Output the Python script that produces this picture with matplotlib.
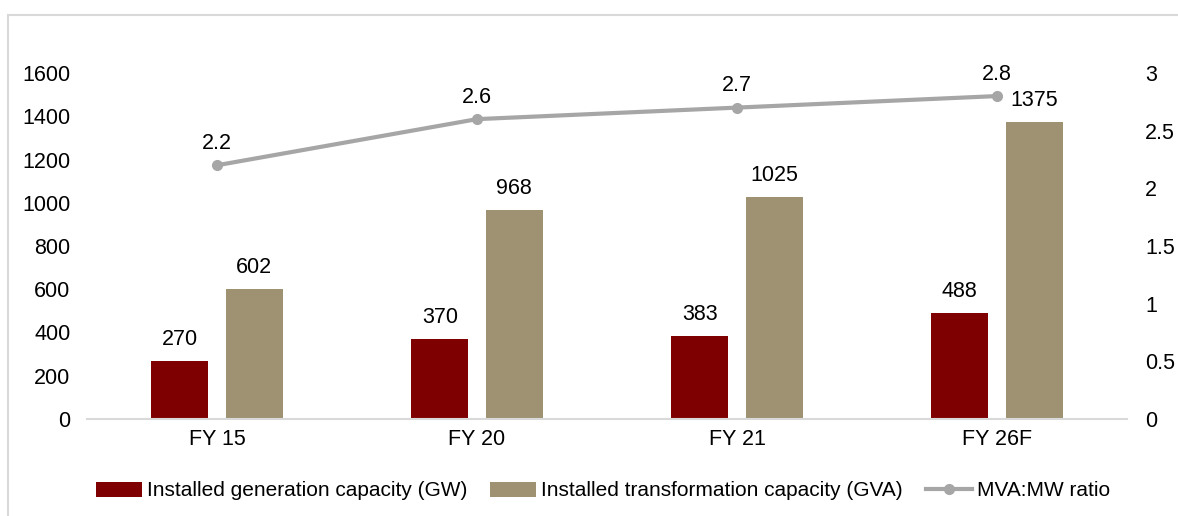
import numpy as np
import matplotlib.pyplot as plt
from matplotlib.patches import Rectangle

plt.rcParams['font.family'] = ['Liberation Sans', 'DejaVu Sans']

years = ['FY 15', 'FY 20', 'FY 21', 'FY 26F']
gen_cap = [270, 370, 383, 488]
trans_cap = [602, 968, 1025, 1375]
ratio = [2.2, 2.6, 2.7, 2.8]

red = '#7f0000'
tan = '#9e9273'
grey = '#a6a6a6'
fs = 15.5

fig = plt.figure(figsize=(11.78, 5.16), dpi=100)
fig.patches.append(Rectangle((8 / 1178, -0.1), 1.2, 1 - 15 / 516 + 0.1, transform=fig.transFigure,
                             fill=False, edgecolor='#d9d9d9', linewidth=1.5))
ax = fig.add_axes([87 / 1178, 1 - 419 / 516, (1127 - 87) / 1178, (419 - 73) / 516])
x = np.arange(len(years))
w = 0.22
off = 0.143
b1 = ax.bar(x - off, gen_cap, w, color=red, label='Installed generation capacity (GW)')
b2 = ax.bar(x + off, trans_cap, w, color=tan, label='Installed transformation capacity (GVA)')
for xi, v in zip(x, gen_cap):
    ax.annotate(str(v), (xi - off, v), xytext=(0, 8), textcoords='offset points',
                ha='center', va='bottom', fontsize=fs)
for xi, v in zip(x, trans_cap):
    ax.annotate(str(v), (xi + off, v), xytext=(0, 8), textcoords='offset points',
                ha='center', va='bottom', fontsize=fs)

ax.set_xlim(-0.5, 3.5)
ax.set_ylim(0, 1600)
ax.set_yticks(range(0, 1601, 200))
ax.set_xticks(x)
ax.set_xticklabels(years)
ax.tick_params(length=0, labelsize=fs)
ax.tick_params(axis='y', pad=12)
ax.tick_params(axis='x', pad=7)
for s in ['top', 'right', 'left']:
    ax.spines[s].set_visible(False)
ax.spines['bottom'].set_color('#d9d9d9')
ax.spines['bottom'].set_linewidth(1.5)

ax2 = ax.twinx()
ln, = ax2.plot(x, ratio, color=grey, linewidth=3, marker='o', markersize=7,
               label='MVA:MW ratio', clip_on=False)
for xi, v in zip(x, ratio):
    ax2.annotate(str(v), (xi, v), xytext=(0, 8), textcoords='offset points',
                 ha='center', va='bottom', fontsize=fs)
ax2.set_ylim(0, 3)
ax2.set_yticks([0, 0.5, 1, 1.5, 2, 2.5, 3])
ax2.set_yticklabels(['0', '0.5', '1', '1.5', '2', '2.5', '3'])
ax2.tick_params(length=0, labelsize=fs, pad=13)
for s in ['top', 'right', 'left', 'bottom']:
    ax2.spines[s].set_visible(False)

fig.legend([b1, b2, ln], [b1.get_label(), b2.get_label(), ln.get_label()],
           loc='center', bbox_to_anchor=(0.512, 1 - 491 / 516), ncol=3, frameon=False,
           fontsize=15, handlelength=2.2, handletextpad=0.25, columnspacing=1.1)

fig.savefig('out.png', dpi=100)
